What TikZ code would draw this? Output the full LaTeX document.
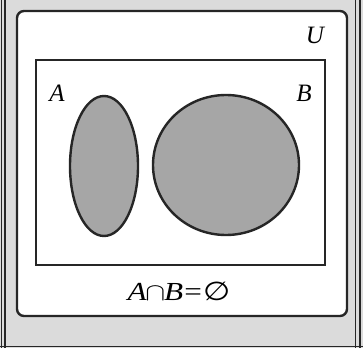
\documentclass[tikz,border=0pt]{standalone}
\usepackage{fontspec}
\setmainfont{Liberation Serif}
\newfontfamily\dvsans{DejaVu Sans}
\usetikzlibrary{shapes.geometric}
\begin{document}
\begin{tikzpicture}[x=1pt,y=1pt,
  frameline/.style={line width=1.4pt,draw=black!85},
  boxline/.style={line width=2.4pt,draw=black!85},
  setshape/.style={boxline,fill=black!35},
  lbl/.style={font=\fontsize{25}{27}\selectfont\itshape,anchor=base,inner sep=0pt},
  eqlbl/.style={font=\fontsize{26}{28}\selectfont\itshape,anchor=base,inner sep=0pt,xscale=1.2,transform shape}]
\useasboundingbox (0,0) rectangle (363,348);
\fill[black!14] (0,0) rectangle (363,348);
\draw[frameline] (1.2,0) -- (1.2,348);
\draw[frameline] (5,0) -- (5,348);
\draw[frameline] (355.5,0) -- (355.5,348);
\draw[frameline] (360,0) -- (360,348);
\draw[frameline] (0,1.5) -- (363,1.5);
\draw[boxline,fill=white,rounded corners=7pt] (17,32) rectangle (347,337);
\node[boxline,draw,minimum width=289pt,minimum height=205pt,inner sep=0pt] (U) at (180.5,185.5) {};
\node[setshape,ellipse,minimum width=68pt,minimum height=140pt,inner sep=0pt] (A) at (104,182) {};
\node[setshape,ellipse,minimum width=146pt,minimum height=140pt,inner sep=0pt] (B) at (226,183) {};
\node[lbl] (lu) at (315,304) {U};
\node[lbl] (la) at (57,246) {A};
\node[lbl] (lb) at (304,246) {B};
\node[eqlbl] (eq) at (179,48) {A\kern-1pt$\cap$\kern-1pt B\kern1pt\upshape=\kern1pt{\dvsans ∅}};
\end{tikzpicture}
\end{document}
